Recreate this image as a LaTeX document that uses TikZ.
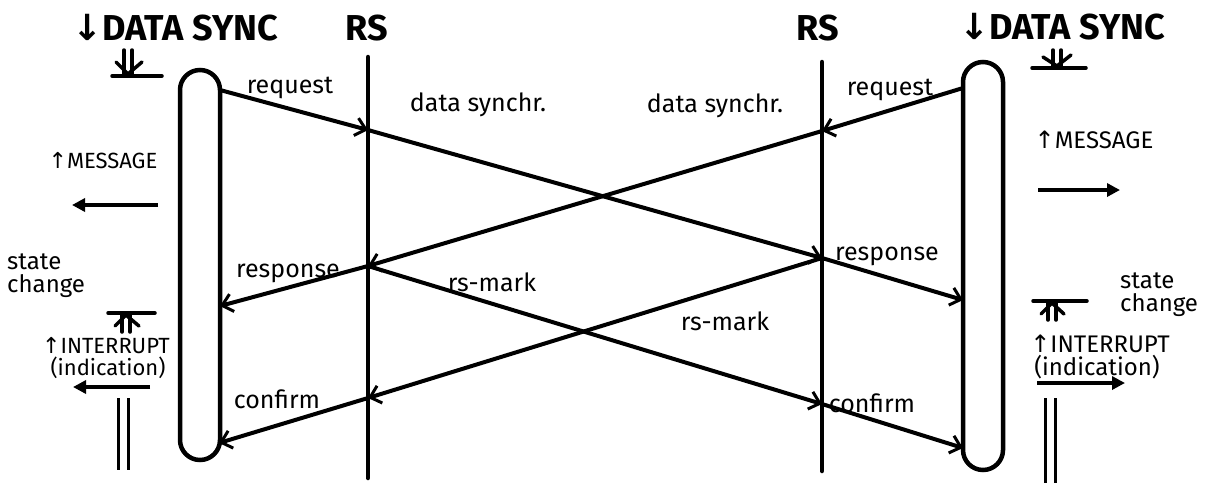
\documentclass[tikz,border=0pt]{standalone}
\usepackage{fontspec}
\setmainfont{Fira Sans}
\newfontfamily\arrowfont{DejaVu Sans}
\usetikzlibrary{arrows.meta}

\begin{document}
\begin{tikzpicture}[x=1pt,y=-1pt,
  lifeline/.style={line width=4.5pt, line cap=round},
  actbox/.style={draw, line width=4.5pt, rounded corners=20pt,
                 minimum width=40pt, inner sep=0pt},
  msg/.style={line width=4pt, line cap=round,
              -{Straight Barb[length=10pt,width=18pt,line width=3pt]}},
  prim/.style={line width=4.5pt, -{Triangle[length=13pt,width=13pt]}},
  glyph/.style={line width=3.5pt, line cap=round},
  bars/.style={line width=3pt},
  title/.style={font=\fontsize{36}{38}\selectfont\bfseries, inner sep=0pt},
  lbl/.style={font=\fontsize{25}{26}\selectfont, inner sep=0pt},
  side/.style={font=\fontsize{22}{22}\selectfont, inner sep=0pt, align=left},
  sidebig/.style={font=\fontsize{24}{23}\selectfont, inner sep=0pt, align=left},
]
\useasboundingbox (0,0) rectangle (1220,483);

% headings
\node[title] (tl) at (175,28) {{\arrowfont ↓}DATA SYNC};
\node[title] (rsl) at (367,28) {RS};
\node[title] (rsr) at (818,28) {RS};
\node[title] (tr) at (1062,27) {{\arrowfont ↓}DATA SYNC};

% activation boxes of the two users
\node[actbox, minimum height=390pt] (lbox) at (200,265) {};
\node[actbox, minimum height=408pt] (rbox) at (983,266) {};

% the two RS lifelines
\coordinate (rsLtop) at (368,57);
\coordinate (rsLbot) at (368,478);
\coordinate (rsRtop) at (822,62);
\coordinate (rsRbot) at (822,471);
\draw[lifeline] (rsLtop) -- (rsLbot);
\draw[lifeline] (rsRtop) -- (rsRbot);

% message points
\coordinate (a0) at (220,90);
\coordinate (a1) at (368,130);
\coordinate (a2) at (822,258);
\coordinate (a3) at (963,300);
\coordinate (b0) at (963,88);
\coordinate (b1) at (822,131);
\coordinate (b2) at (368,266);
\coordinate (b3) at (220,306);
\coordinate (c2) at (822,404);
\coordinate (c3) at (963,448);
\coordinate (d2) at (368,398);
\coordinate (d3) at (219,443);

% data sync from the left
\draw[msg] (a0) -- (a1);
\draw[msg] (a1) -- (a2);
\draw[msg] (a2) -- (a3);
% data sync from the right
\draw[msg] (b0) -- (b1);
\draw[msg] (b1) -- (b2);
\draw[msg] (b2) -- (b3);
% resynchronisation marks
\draw[msg] (b2) -- (c2);
\draw[msg] (c2) -- (c3);
\draw[msg] (a2) -- (d2);
\draw[msg] (d2) -- (d3);

% message labels
\node[lbl] (l1) at (290,88) {request};
\node[lbl] (l2) at (478,105) {data synchr.};
\node[lbl] (l3) at (715,106) {data synchr.};
\node[lbl] (l4) at (890,90) {request};
\node[lbl] (l5) at (288,273) {response};
\node[lbl] (l6) at (887,256) {response};
\node[lbl] (l7) at (492,282) {rs-mark};
\node[lbl] (l8) at (725,321) {rs-mark};
\node[lbl] (l9) at (277,399) {confirm};
\node[lbl] (l10) at (872,403) {confirm};

% left side: primitives
\node[side] (msgl) at (103,161) {{\arrowfont ↑}MESSAGE};
\coordinate (pm0) at (158,205);
\coordinate (pm1) at (72,205);
\draw[prim] (pm0) -- (pm1);
\node[sidebig, anchor=north west] (scl) at (7,254) {state\\change};
\node[side] (intl) at (106,346) {{\arrowfont ↑}INTERRUPT};
\node[side] (indl) at (108,368) {(indication)};
\coordinate (pi0) at (150,387);
\coordinate (pi1) at (73,387);
\draw[prim] (pi0) -- (pi1);
\draw[bars] (118,398) -- (118,470) (128,398) -- (128,470);

% right side: primitives
\node[sidebig] (msgr) at (1094,140) {{\arrowfont ↑}MESSAGE};
\coordinate (qm0) at (1038,190);
\coordinate (qm1) at (1120,190);
\draw[prim] (qm0) -- (qm1);
\node[sidebig, anchor=north west] (scr) at (1120,273) {state\\change};
\node[sidebig] (intr) at (1100,344) {{\arrowfont ↑}INTERRUPT};
\node[sidebig] (indr) at (1097,367) {(indication)};
\coordinate (qi0) at (1037,383);
\coordinate (qi1) at (1125,383);
\draw[prim] (qi0) -- (qi1);
\draw[bars] (1045,398) -- (1045,483) (1055,398) -- (1055,483);

% synchronisation point marks (arrow onto a bar)
\draw[glyph] (112,76) -- (162,76);
\draw[glyph] (124,50) -- (124,74) (132,50) -- (132,74);
\draw[glyph] (116,62) -- (128,74) -- (142,62);

\draw[glyph] (1032,68) -- (1086,68);
\draw[glyph] (1053,50) -- (1053,66) (1061,50) -- (1061,66);
\draw[glyph] (1043,57) -- (1057,66) -- (1071,55);

% state change marks (arrow up to a bar)
\draw[glyph] (108,313) -- (155,313);
\draw[glyph] (122,315) -- (122,332) (130,315) -- (130,332);
\draw[glyph] (115,326) -- (126,315) -- (139,326);

\draw[glyph] (1033,301) -- (1087,301);
\draw[glyph] (1048,303) -- (1048,320) (1056,303) -- (1056,320);
\draw[glyph] (1041,314) -- (1052,303) -- (1064,314);
\end{tikzpicture}
\end{document}
